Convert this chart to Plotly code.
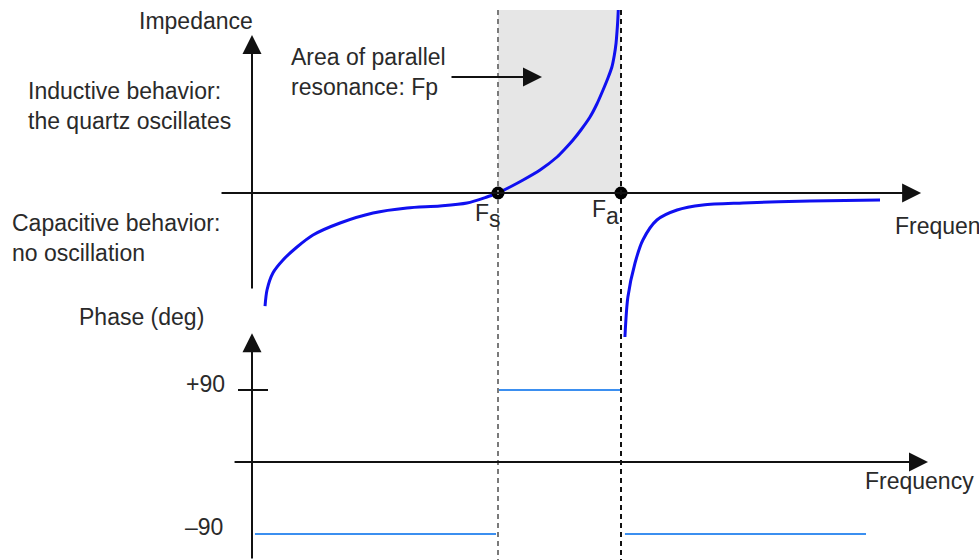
import plotly.graph_objects as go

# Frequency in units of Fs; impedance in arbitrary units
FS = 1.0
FA = 1.5

# Capacitive branch below Fs
freq_cap_low = [0.053, 0.061, 0.085, 0.126, 0.183, 0.248, 0.358, 0.492, 0.630, 0.764,
                0.874, 0.955, 1.000]
imp_cap_low = [-1.13, -0.97, -0.80, -0.67, -0.54, -0.42, -0.30, -0.20, -0.15, -0.13,
               -0.10, -0.04, 0.00]

# Inductive branch between Fs and Fa
freq_ind = [1.000, 1.049, 1.102, 1.171, 1.240, 1.272, 1.305, 1.337, 1.374, 1.402,
            1.427, 1.447, 1.463, 1.473, 1.480, 1.484, 1.487, 1.489]
imp_ind = [0.00, 0.06, 0.13, 0.23, 0.36, 0.44, 0.53, 0.63, 0.76, 0.89,
           1.03, 1.15, 1.26, 1.38, 1.50, 1.62, 1.73, 1.83]

# Capacitive branch above Fa
freq_high = [1.516, 1.528, 1.557, 1.589, 1.646, 1.728, 1.833, 1.996, 2.268, 2.553]
imp_high = [-1.44, -1.04, -0.70, -0.47, -0.27, -0.17, -0.12, -0.10, -0.08, -0.07]

# Phase steps (degrees)
phase_segments = [
    ([0.012, 0.992], [-90, -90]),
    ([1.004, 1.500], [90, 90]),
    ([1.516, 2.496], [-90, -90]),
]
phase_ticks = [90, -90]
phase_tick_labels = ["+90", "\u201390"]

W, H = 979, 560
X_RANGE = [-1.0244, 2.9553]
Y_RANGE = [-3.67, 1.93]
Y2_RANGE = [-122.5, 577.5]
Z_TOP = 1.83

TEXT = "#2a2a2a"
FONT = "Liberation Sans, Arial, sans-serif"
FS_PT = 23
CURVE = dict(color="#1010f0", width=3)


def px(x, y):
    """Pixel position to paper fraction."""
    return x / W, 1 - y / H


fig = go.Figure()

# Shaded area of parallel resonance
fig.add_shape(type="rect", xref="x", yref="y", x0=FS, x1=FA, y0=0, y1=Z_TOP,
              fillcolor="#e6e6e6", line_width=0, layer="below")

# Dashed verticals at Fs and Fa
fig.add_shape(type="line", xref="x", yref="y", x0=FS, x1=FS, y0=Z_TOP, y1=Y_RANGE[0],
              line=dict(color="#7a7a7a", width=2, dash="5px,4px"))
fig.add_shape(type="line", xref="x", yref="y", x0=FA, x1=FA, y0=Z_TOP, y1=Y_RANGE[0],
              line=dict(color="#111111", width=2, dash="5px,4px"))


def arrow(x0, y0, x1, y1, yref="y"):
    fig.add_annotation(x=x1, y=y1, ax=x0, ay=y0, xref="x", yref=yref, axref="x",
                       ayref=yref, text="", showarrow=True, arrowhead=2, arrowsize=1.9,
                       arrowwidth=2, arrowcolor="#111111")


# Impedance axes
arrow(-0.13, 0, 2.72, 0)
arrow(0, -0.97, 0, 1.58)

# Phase axes
arrow(-0.077, 0, 2.748, 0, yref="y2")
arrow(0, -122.5, 0, 161, yref="y2")
fig.add_shape(type="line", xref="x", yref="y2", x0=-0.057, x1=0.065, y0=phase_ticks[0],
              y1=phase_ticks[0], line=dict(color="#111111", width=2))

# Impedance curve
fig.add_trace(go.Scatter(x=freq_cap_low, y=imp_cap_low, mode="lines", line_shape="spline",
                         line=dict(**CURVE, smoothing=0.8), yaxis="y"))
fig.add_trace(go.Scatter(x=freq_ind, y=imp_ind, mode="lines", line_shape="spline",
                         line=dict(**CURVE, smoothing=0.5), yaxis="y"))
fig.add_trace(go.Scatter(x=freq_high, y=imp_high, mode="lines", line_shape="spline",
                         line=dict(**CURVE, smoothing=0.8), yaxis="y"))

# Resonance points
fig.add_trace(go.Scatter(x=[FS, FA], y=[0, 0], mode="markers",
                         marker=dict(color="#000000", size=13), yaxis="y"))

# Phase response
for xs, ys in phase_segments:
    fig.add_trace(go.Scatter(x=xs, y=ys, mode="lines",
                             line=dict(color="#3b8ff0", width=2), yaxis="y2"))


def label(text, x, y, xanchor="left", yanchor="middle", size=FS_PT):
    fx, fy = px(x, y)
    fig.add_annotation(x=fx, y=fy, xref="paper", yref="paper", text=text,
                       showarrow=False, xanchor=xanchor, yanchor=yanchor, align="left",
                       font=dict(family=FONT, size=size, color=TEXT))


label("Impedance", 255, 21, xanchor="right")
label("Inductive behavior:<br>the quartz oscillates", 26, 106)
label("Capacitive behavior:<br>no oscillation", 10, 238)
label("Phase (deg)", 77, 317)
label("Area of parallel<br>resonance: Fp", 289, 72)
label("Frequency", 893, 226)
label("Frequency", 863, 481)
label(phase_tick_labels[0], 227, 384, xanchor="right")
label(phase_tick_labels[1], 225, 527, xanchor="right")

# Resonance frequency names: F with a lowered letter
label("F", 473, 213)
label("s", 487, 219)
label("F", 590, 209)
label("a", 604, 216)

# Pointer into the shaded area
arrow((450 - 252) / 246, (193 - 77) / 100, (542 - 252) / 246, (193 - 77) / 100)

fig.update_layout(
    width=W, height=H,
    margin=dict(l=0, r=0, t=0, b=0),
    paper_bgcolor="white", plot_bgcolor="white",
    showlegend=False,
    xaxis=dict(range=X_RANGE, visible=False, fixedrange=True),
    yaxis=dict(range=Y_RANGE, visible=False, fixedrange=True),
    yaxis2=dict(range=Y2_RANGE, visible=False, overlaying="y", fixedrange=True),
)

fig.write_html("out.html", config={"displayModeBar": False})
